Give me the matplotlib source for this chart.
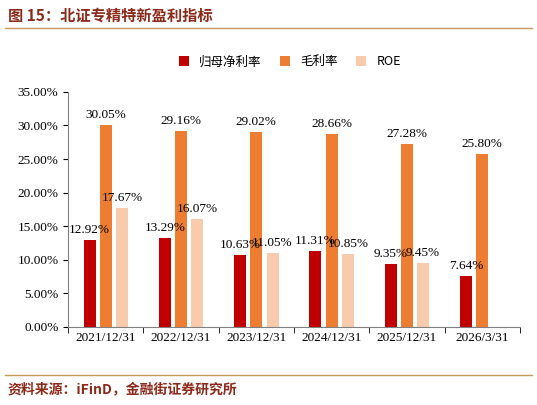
import matplotlib
matplotlib.use("Agg")
import matplotlib.pyplot as plt
import numpy as np

categories = ["2021/12/31", "2022/12/31", "2023/12/31", "2024/12/31", "2025/12/31", "2026/3/31"]
net_margin = [12.92, 13.29, 10.63, 11.31, 9.35, 7.64]
gross_margin = [30.05, 29.16, 29.02, 28.66, 27.28, 25.80]
roe = [17.67, 16.07, 11.05, 10.85, 9.45, None]
series_names = ["归母净利率", "毛利率", "ROE"]
colors = ["#C00000", "#ED7D31", "#F8CBAD"]

serif = ["Liberation Serif", "Noto Sans CJK SC"]
cjk = ["Noto Sans CJK SC", "DejaVu Sans"]

fig = plt.figure(figsize=(5.37, 4.05), dpi=100)
ax = fig.add_axes([0.127, 0.193, 0.841, 0.58])
x = np.arange(len(categories))
w, off = 0.16, 0.215
for i, (vals, c, name) in enumerate(zip([net_margin, gross_margin, roe], colors, series_names)):
    xs = [xi + (i - 1) * off for xi, v in zip(x, vals) if v is not None]
    vs = [v for v in vals if v is not None]
    ax.bar(xs, vs, width=w, color=c, label=name)
    for xx, v in zip(xs, vs):
        ax.text(xx, v + 0.6, f"{v:.2f}%", ha="center", va="bottom", fontsize=9.5, family=serif)

ax.set_xlim(-0.5, len(categories) - 0.5)
ax.set_ylim(0, 35)
ax.set_yticks(np.arange(0, 35.01, 5))
ax.set_yticklabels([f"{t:.2f}%" for t in np.arange(0, 35.01, 5)], family=serif, fontsize=9.5)
ax.set_xticks(x)
ax.set_xticklabels(categories, family=serif, fontsize=9.5)
ax.set_xticks(np.arange(-0.5, len(categories)), minor=True)
ax.tick_params(axis="x", which="major", length=0)
ax.tick_params(axis="x", which="minor", length=4)
for s in ["top", "right"]:
    ax.spines[s].set_visible(False)
for s in ["left", "bottom"]:
    ax.spines[s].set_color("#808080")

leg = fig.legend(loc="center", bbox_to_anchor=(0.54, 0.847), ncol=3, frameon=False,
                 prop={"family": cjk, "size": 9}, handlelength=0.8, handleheight=0.8, columnspacing=1.5)

fig.text(0.015, 0.962, "图 15：北证专精特新盈利指标", family=cjk, fontsize=11, fontweight="bold",
         color="#8B2A1A", va="center")
fig.add_artist(plt.Line2D([0.01, 0.99], [0.93, 0.93], color="#C89A5A", lw=1))
fig.add_artist(plt.Line2D([0.01, 0.99], [0.075, 0.075], color="#C89A5A", lw=1))
fig.text(0.015, 0.04, "资料来源：iFinD，金融街证券研究所", family=cjk, fontsize=10, fontweight="bold",
         color="#8B2A1A", va="center")
fig.savefig("out.png", dpi=100)
